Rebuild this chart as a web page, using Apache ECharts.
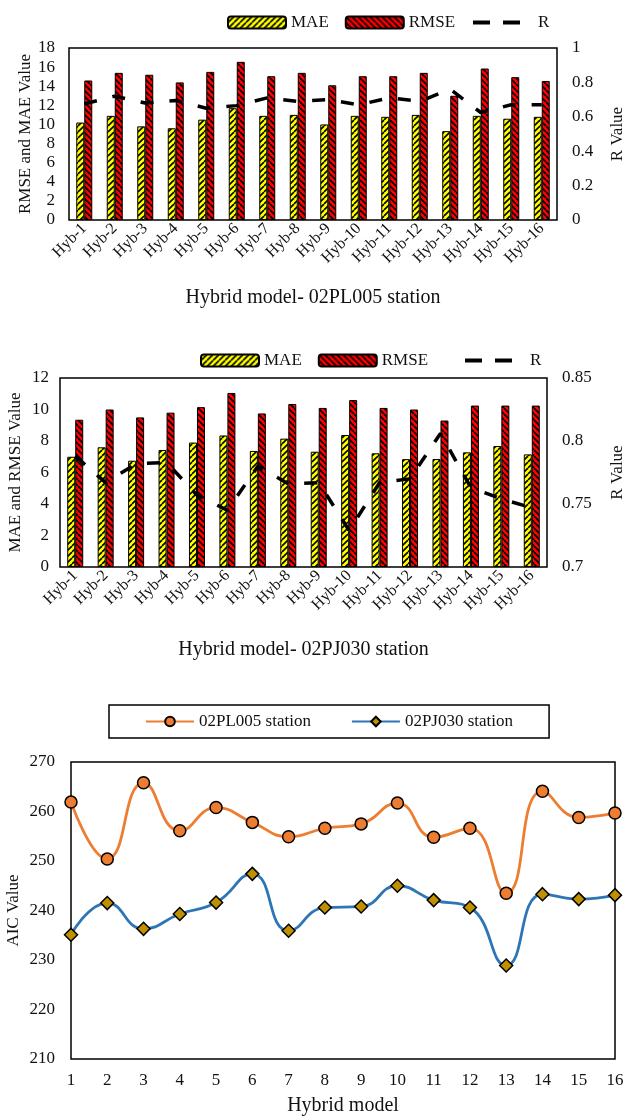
<!DOCTYPE html>
<html>
<head>
<meta charset="utf-8">
<script src="https://cdn.jsdelivr.net/npm/echarts@6/dist/echarts.min.js"></script>
<style>
  html, body { margin: 0; padding: 0; background: #fff; }
  #chart { width: 624px; height: 1119px; }
</style>
</head>
<body>
<div id="chart"></div>
<script>
// Hybrid model labels
const categories = ['Hyb-1','Hyb-2','Hyb-3','Hyb-4','Hyb-5','Hyb-6','Hyb-7','Hyb-8',
                    'Hyb-9','Hyb-10','Hyb-11','Hyb-12','Hyb-13','Hyb-14','Hyb-15','Hyb-16'];

// 02PL005 station
const maePL  = [10.2, 10.9, 9.8, 9.6, 10.5, 11.7, 10.9, 11.0, 10.0, 10.9, 10.8, 11.0, 9.3, 10.9, 10.6, 10.8];
const rmsePL = [14.6, 15.4, 15.2, 14.4, 15.5, 16.55, 15.05, 15.4, 14.1, 15.05, 15.05, 15.4, 13.0, 15.85, 14.95, 14.55];
const rPL    = [0.675, 0.72, 0.68, 0.695, 0.65, 0.665, 0.71, 0.69, 0.70, 0.67, 0.71, 0.69, 0.76, 0.625, 0.67, 0.67];

// 02PJ030 station
const maePJ  = [7.0, 7.6, 6.75, 7.43, 7.9, 8.35, 7.37, 8.15, 7.32, 8.38, 7.22, 6.85, 6.86, 7.28, 7.68, 7.15];
const rmsePJ = [9.35, 10.0, 9.5, 9.8, 10.15, 11.05, 9.75, 10.35, 10.1, 10.6, 10.1, 10.0, 9.3, 10.25, 10.25, 10.25];
const rPJ    = [0.788, 0.767, 0.782, 0.783, 0.757, 0.745, 0.780, 0.766, 0.767, 0.729, 0.767, 0.770, 0.806, 0.763, 0.754, 0.747];

// AIC per hybrid model
const modelNumbers = ['1','2','3','4','5','6','7','8','9','10','11','12','13','14','15','16'];
const aicPL = [261.9, 250.4, 265.8, 256.1, 260.8, 257.8, 254.9, 256.6, 257.5, 261.7, 254.8, 256.6, 243.5, 264.1, 258.8, 259.7];
const aicPJ = [235.1, 241.5, 236.3, 239.3, 241.6, 247.4, 235.9, 240.6, 240.8, 245.0, 242.1, 240.6, 228.9, 243.3, 242.3, 243.1];

const FONT = '"Liberation Serif", "Times New Roman", serif';
const INK = '#111';

// Diagonal hatch fill used for the bars
function hatch(bg, rising) {
  const c = document.createElement('canvas');
  c.width = 6; c.height = 6;
  const g = c.getContext('2d');
  g.fillStyle = bg;
  g.fillRect(0, 0, 6, 6);
  g.strokeStyle = '#000';
  g.lineWidth = 1.6;
  for (let k = -6; k <= 6; k += 6) {
    g.beginPath();
    if (rising) { g.moveTo(k, 6); g.lineTo(k + 6, 0); }
    else { g.moveTo(k, 0); g.lineTo(k + 6, 6); }
    g.stroke();
  }
  return { image: c, repeat: 'repeat' };
}
const maeFill = hatch('#FFFF00', true);
const rmseFill = hatch('#FF0000', false);

// two-dash key for the R series
const dashIcon = 'path://M0 0H17V4H0Z M30 0H47V4H30Z';

const chart = echarts.init(document.getElementById('chart'), null, { renderer: 'canvas' });

function barAxisX(gridIndex, title, gap) {
  return {
    type: 'category', gridIndex, data: categories,
    axisLine: { show: false }, axisTick: { show: false },
    axisLabel: { interval: 0, rotate: 45, fontFamily: FONT, fontSize: 16, color: INK, margin: 6 },
    name: title, nameLocation: 'middle', nameGap: gap, nameMoveOverlap: false,
    nameTextStyle: { fontFamily: FONT, fontSize: 20, color: INK }
  };
}
function valAxis(gridIndex, pos, min, max, interval, name, gap, margin) {
  return {
    type: 'value', gridIndex, position: pos, min, max, interval,
    splitLine: { show: false }, axisLine: { show: false }, axisTick: { show: false },
    axisLabel: { fontFamily: FONT, fontSize: 17, color: INK, margin },
    name, nameLocation: 'middle', nameGap: gap, nameRotate: 90, nameMoveOverlap: false,
    nameTextStyle: { fontFamily: FONT, fontSize: 17, color: INK }
  };
}
function bars(name, data, fill, xi, yi) {
  return {
    name, type: 'bar', xAxisIndex: xi, yAxisIndex: yi, data,
    barWidth: 8, barGap: '0%',
    itemStyle: { color: fill, borderColor: '#000', borderWidth: 1 }
  };
}
function rLine(data, xi, yi) {
  return {
    name: 'R', type: 'line', xAxisIndex: xi, yAxisIndex: yi, data,
    symbol: 'none', z: 5,
    lineStyle: { color: '#000', width: 3.5, type: [13, 16] },
    itemStyle: { color: '#000' }
  };
}
const legendText = { fontFamily: FONT, fontSize: 17, color: INK };
function barLegend(left, top) {
  return { left, top, itemWidth: 58, itemHeight: 12, itemGap: 16, textStyle: legendText, data: ['MAE', 'RMSE'] };
}
function rLegend(left, top) {
  return {
    left, top, itemWidth: 47, itemHeight: 4,
    textStyle: Object.assign({ padding: [0, 0, 0, 13] }, legendText),
    data: [{ name: 'R', icon: dashIcon }]
  };
}
function plotBox(left, top, width, height) {
  return { left, top, width, height, show: true, borderColor: '#000', borderWidth: 1.5,
           containLabel: false, outerBoundsMode: 'none' };
}

const option = {
  animation: false,
  backgroundColor: '#fff',
  legend: [
    barLegend(222, 9),
    rLegend(468, 9),
    barLegend(195, 347),
    rLegend(460, 347),
    {
      left: 109, top: 705, itemWidth: 48, itemHeight: 12, itemGap: 40,
      padding: [8, 36, 8, 36], borderColor: '#000', borderWidth: 1.5,
      textStyle: legendText, data: ['02PL005 station', '02PJ030 station']
    }
  ],
  grid: [
    plotBox(69, 48, 488, 172),
    plotBox(60, 378, 487, 189),
    plotBox(71, 762, 544, 297)
  ],
  xAxis: [
    barAxisX(0, 'Hybrid model- 02PL005 station', 68),
    barAxisX(1, 'Hybrid model- 02PJ030 station', 73),
    {
      type: 'category', gridIndex: 2, data: modelNumbers, boundaryGap: false,
      axisLine: { show: false }, axisTick: { show: false },
      axisLabel: { interval: 0, fontFamily: FONT, fontSize: 17, color: INK, margin: 13 },
      name: 'Hybrid model', nameLocation: 'middle', nameGap: 37, nameMoveOverlap: false,
      nameTextStyle: { fontFamily: FONT, fontSize: 20, color: INK }
    }
  ],
  yAxis: [
    valAxis(0, 'left', 0, 18, 2, 'RMSE and MAE Value', 35, 14),
    valAxis(0, 'right', 0, 1, 0.2, 'R Value', 52, 15),
    valAxis(1, 'left', 0, 12, 2, 'MAE and RMSE Value', 36, 11),
    valAxis(1, 'right', 0.7, 0.85, 0.05, 'R Value', 62, 15),
    valAxis(2, 'left', 210, 270, 10, 'AIC Value', 49, 16)
  ],
  series: [
    bars('MAE', maePL, maeFill, 0, 0),
    bars('RMSE', rmsePL, rmseFill, 0, 0),
    rLine(rPL, 0, 1),
    bars('MAE', maePJ, maeFill, 1, 2),
    bars('RMSE', rmsePJ, rmseFill, 1, 2),
    rLine(rPJ, 1, 3),
    {
      name: '02PL005 station', type: 'line', xAxisIndex: 2, yAxisIndex: 4, data: aicPL,
      smooth: 0.5, symbol: 'circle', symbolSize: 12,
      lineStyle: { color: '#ED7D31', width: 2.8 },
      itemStyle: { color: '#ED7D31', borderColor: '#000', borderWidth: 1.5 }
    },
    {
      name: '02PJ030 station', type: 'line', xAxisIndex: 2, yAxisIndex: 4, data: aicPJ,
      smooth: 0.5, symbol: 'diamond', symbolSize: 13,
      lineStyle: { color: '#2E75B6', width: 2.8 },
      itemStyle: { color: '#BF9000', borderColor: '#000', borderWidth: 1.5 }
    }
  ]
};
chart.setOption(option);
</script>
</body>
</html>
